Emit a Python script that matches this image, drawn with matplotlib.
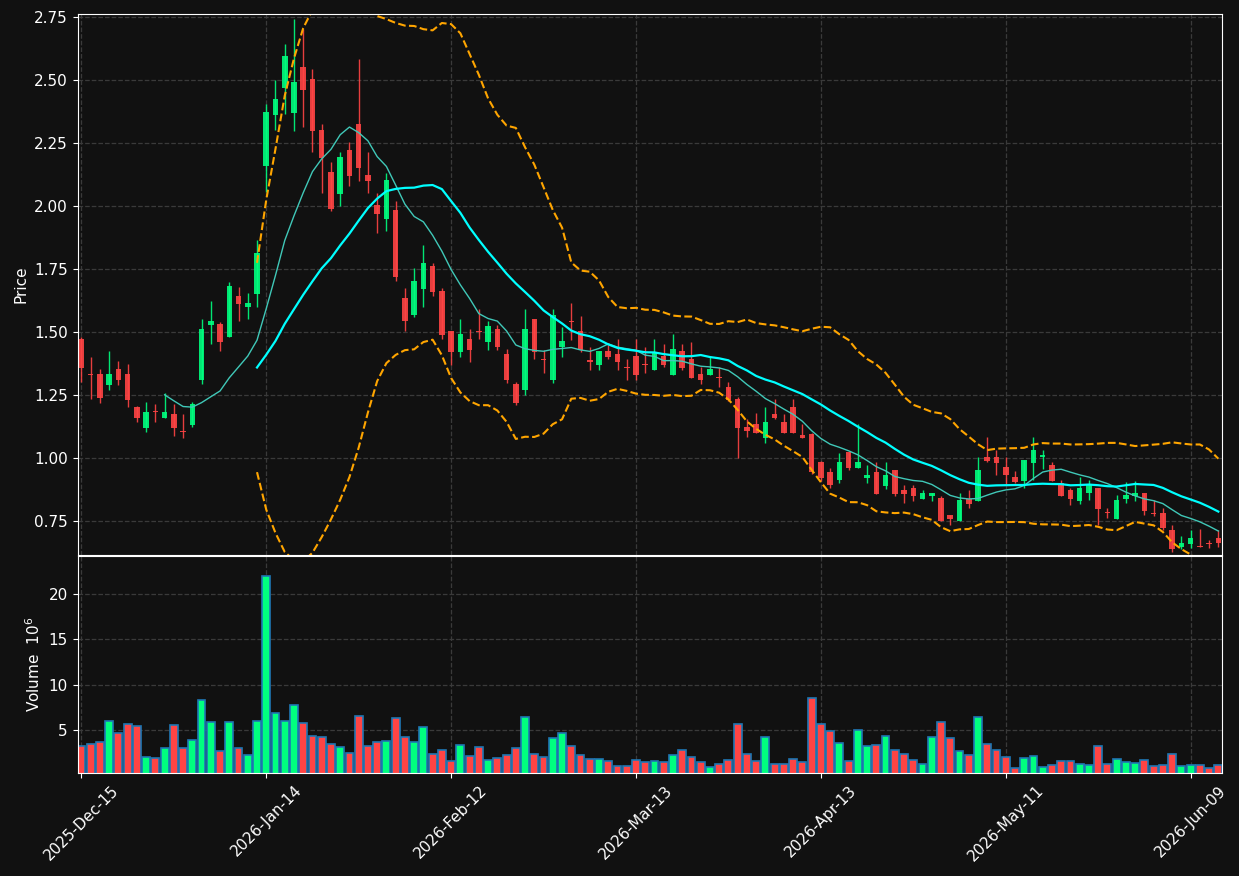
import numpy as np
import pandas as pd
import matplotlib
matplotlib.use('Agg')
import matplotlib.pyplot as plt

# daily OHLC (trading days 2025-12-15 .. 2026-06-12)
opens = [1.472, 1.335, 1.333, 1.291, 1.353, 1.333, 1.202, 1.120, 1.183, 1.160,
         1.175, 1.105, 1.132, 1.311, 1.529, 1.532, 1.481, 1.643, 1.600, 1.652,
         2.160, 2.362, 2.470, 2.369, 2.552, 2.504, 2.302, 2.135, 2.048, 2.222,
         2.325, 2.123, 2.004, 1.950, 1.984, 1.635, 1.569, 1.672, 1.762, 1.663,
         1.504, 1.422, 1.472, 1.506, 1.460, 1.512, 1.413, 1.294, 1.270, 1.552,
         1.392, 1.310, 1.442, 1.543, 1.504, 1.387, 1.369, 1.425, 1.413, 1.362,
         1.405, 1.375, 1.349, 1.406, 1.329, 1.425, 1.393, 1.333, 1.331, 1.322,
         1.283, 1.234, 1.123, 1.135, 1.081, 1.175, 1.143, 1.201, 1.090, 1.095,
         0.984, 0.944, 0.913, 1.024, 0.962, 0.922, 0.946, 0.889, 0.952, 0.873,
         0.882, 0.837, 0.849, 0.840, 0.773, 0.751, 0.838, 0.831, 1.003, 1.003,
         0.963, 0.923, 0.910, 0.981, 1.003, 0.972, 0.902, 0.873, 0.831, 0.860,
         0.882, 0.785, 0.759, 0.837, 0.850, 0.861, 0.783, 0.781, 0.714, 0.648,
         0.659, 0.649, 0.662, 0.684]
highs = [1.480, 1.402, 1.352, 1.423, 1.385, 1.373, 1.205, 1.221, 1.214, 1.257,
         1.213, 1.175, 1.221, 1.550, 1.623, 1.541, 1.700, 1.680, 1.654, 1.865,
         2.405, 2.501, 2.642, 2.741, 2.702, 2.542, 2.325, 2.173, 2.213, 2.253,
         2.583, 2.213, 2.050, 2.132, 2.021, 1.673, 1.753, 1.845, 1.773, 1.673,
         1.504, 1.550, 1.511, 1.590, 1.542, 1.528, 1.431, 1.302, 1.590, 1.552,
         1.429, 1.590, 1.521, 1.614, 1.563, 1.442, 1.425, 1.448, 1.471, 1.392,
         1.471, 1.442, 1.471, 1.451, 1.491, 1.452, 1.461, 1.360, 1.402, 1.360,
         1.300, 1.243, 1.154, 1.180, 1.201, 1.233, 1.175, 1.233, 1.135, 1.100,
         0.990, 0.960, 1.021, 1.024, 1.134, 0.971, 0.983, 0.983, 0.952, 0.893,
         0.893, 0.873, 0.860, 0.850, 0.773, 0.860, 0.873, 1.003, 1.082, 1.032,
         1.003, 0.950, 0.992, 1.082, 1.032, 0.983, 0.913, 0.880, 0.923, 0.913,
         0.882, 0.800, 0.853, 0.904, 0.910, 0.861, 0.833, 0.800, 0.734, 0.692,
         0.714, 0.719, 0.675, 0.714]
lows = [1.300, 1.233, 1.219, 1.271, 1.291, 1.201, 1.142, 1.102, 1.142, 1.158,
        1.088, 1.081, 1.122, 1.292, 1.451, 1.423, 1.481, 1.542, 1.550, 1.600,
        2.054, 2.300, 2.365, 2.299, 2.312, 2.213, 2.050, 1.981, 2.001, 2.081,
        2.100, 2.050, 1.892, 1.902, 1.701, 1.503, 1.560, 1.600, 1.643, 1.471,
        1.369, 1.402, 1.382, 1.471, 1.429, 1.429, 1.299, 1.211, 1.251, 1.392,
        1.338, 1.299, 1.402, 1.468, 1.422, 1.349, 1.349, 1.392, 1.349, 1.310,
        1.310, 1.336, 1.349, 1.362, 1.329, 1.349, 1.319, 1.294, 1.331, 1.283,
        1.228, 1.001, 1.082, 1.100, 1.061, 1.154, 1.100, 1.100, 1.081, 0.935,
        0.910, 0.880, 0.900, 0.952, 0.962, 0.902, 0.857, 0.876, 0.849, 0.820,
        0.831, 0.837, 0.831, 0.751, 0.733, 0.751, 0.800, 0.831, 0.983, 0.933,
        0.897, 0.900, 0.880, 0.913, 0.955, 0.910, 0.850, 0.813, 0.817, 0.833,
        0.734, 0.761, 0.759, 0.820, 0.831, 0.774, 0.770, 0.714, 0.628, 0.640,
        0.642, 0.646, 0.642, 0.648]
closes = [1.358, 1.330, 1.239, 1.333, 1.311, 1.231, 1.160, 1.183, 1.181, 1.183,
          1.120, 1.103, 1.214, 1.512, 1.544, 1.461, 1.683, 1.612, 1.614, 1.813,
          2.373, 2.425, 2.595, 2.492, 2.460, 2.299, 2.190, 1.988, 2.194, 2.119,
          2.151, 2.100, 1.968, 2.103, 1.719, 1.542, 1.702, 1.774, 1.660, 1.489,
          1.422, 1.492, 1.429, 1.502, 1.524, 1.439, 1.310, 1.219, 1.512, 1.422,
          1.388, 1.567, 1.464, 1.539, 1.429, 1.383, 1.425, 1.402, 1.382, 1.358,
          1.329, 1.371, 1.415, 1.369, 1.433, 1.358, 1.319, 1.310, 1.353, 1.318,
          1.230, 1.120, 1.108, 1.100, 1.143, 1.159, 1.100, 1.100, 1.081, 0.944,
          0.921, 0.893, 0.984, 0.962, 0.983, 0.933, 0.857, 0.933, 0.857, 0.857,
          0.849, 0.860, 0.860, 0.751, 0.759, 0.833, 0.817, 0.952, 0.988, 0.981,
          0.933, 0.904, 0.992, 1.032, 1.012, 0.910, 0.850, 0.837, 0.880, 0.893,
          0.798, 0.781, 0.833, 0.853, 0.862, 0.791, 0.779, 0.721, 0.639, 0.662,
          0.681, 0.647, 0.660, 0.661]
# volume in millions
volumes = [3.21, 3.39, 3.61, 5.97, 4.65, 5.60, 5.38, 1.99, 1.88, 2.94,
           5.49, 2.94, 3.87, 8.30, 5.86, 2.65, 5.86, 2.94, 2.21, 5.97,
           22.0, 6.86, 5.97, 7.74, 5.75, 4.31, 4.20, 3.39, 3.10, 2.43,
           6.53, 3.21, 3.63, 3.76, 6.31, 4.20, 3.65, 5.31, 2.32, 2.77,
           1.55, 3.32, 2.10, 3.10, 1.66, 1.88, 2.21, 2.99, 6.42, 2.32,
           1.99, 4.09, 4.65, 3.21, 2.21, 1.77, 1.77, 1.55, 1.00, 1.00,
           1.66, 1.44, 1.55, 1.44, 2.21, 2.77, 1.99, 1.44, 0.88, 1.22,
           1.66, 5.64, 2.32, 1.55, 4.20, 1.22, 1.22, 1.77, 1.40, 8.52,
           5.64, 4.87, 3.54, 1.55, 4.98, 3.21, 3.32, 4.31, 2.77, 2.32,
           1.66, 1.22, 4.20, 5.86, 4.09, 2.65, 2.21, 6.42, 3.43, 2.77,
           1.99, 0.77, 1.88, 2.10, 0.88, 1.11, 1.55, 1.55, 1.22, 1.11,
           3.21, 1.22, 1.77, 1.44, 1.33, 1.66, 1.00, 1.11, 2.32, 1.00,
           1.11, 1.11, 0.77, 1.11]

tick_pos = [0, 20, 40, 60, 80, 100, 120]
tick_labels = ['2025-Dec-15', '2026-Jan-14', '2026-Feb-12', '2026-Mar-13',
               '2026-Apr-13', '2026-May-11', '2026-Jun-09']

BG = '#111111'
UP = '#00ff7f'
DOWN = '#ff4444'

df = pd.DataFrame({'Open': opens, 'High': highs, 'Low': lows,
                   'Close': closes, 'Volume': volumes})
x = np.arange(len(df))
ma10 = df['Close'].rolling(10).mean()
ma20 = df['Close'].rolling(20).mean()
sd20 = df['Close'].rolling(20).std()
bb_up = ma20 + 2 * sd20
bb_lo = ma20 - 2 * sd20

up = df['Close'] >= df['Open']
colors = np.where(up, UP, DOWN)

fig = plt.figure(figsize=(12.39, 8.76), dpi=100, facecolor=BG)
ax = fig.add_axes([0.0627, 0.3664, 0.9236, 0.6176])
axv = fig.add_axes([0.0627, 0.1176, 0.9236, 0.2477], sharex=ax)

for a in (ax, axv):
    a.set_facecolor(BG)
    a.grid(True, linestyle='--', color='#3a3a3a', linewidth=0.9)
    a.set_axisbelow(True)
    for s in a.spines.values():
        s.set_color('white')
    a.tick_params(colors='white', labelsize=11)

# candles
ax.vlines(x, df['Low'], df['High'], colors=colors, linewidth=1, alpha=0.9)
body_lo = np.minimum(df['Open'], df['Close'])
body_h = np.maximum(np.abs(df['Close'] - df['Open']), 0.004)
ax.bar(x, body_h, bottom=body_lo, width=0.6, color=colors, alpha=0.9, linewidth=0)

ax.plot(x, ma10, color='#40c8b8', linewidth=1)
ax.plot(x, ma20, color='#00ffff', linewidth=1.6)
ax.plot(x, bb_up, color='orange', linestyle='--', linewidth=1.5)
ax.plot(x, bb_lo, color='orange', linestyle='--', linewidth=1.5)

ax.set_ylim(0.615, 2.762)
ax.set_xlim(-0.4, len(df) - 1 + 0.4)
ax.set_yticks([0.75, 1.0, 1.25, 1.5, 1.75, 2.0, 2.25, 2.5, 2.75])
ax.set_ylabel('Price', color='white', fontsize=11)
ax.tick_params(labelbottom=False)

# volume
axv.bar(x, df['Volume'], width=0.85, color=colors, edgecolor='#1f77b4', linewidth=1.2)
axv.set_ylim(0.3 * min(volumes), 1.1 * max(volumes))
axv.set_yticks([5, 10, 15, 20])
axv.set_ylabel('Volume  $10^{6}$', color='white', fontsize=11)
axv.set_xticks(tick_pos)
axv.set_xticklabels(tick_labels, rotation=45)

fig.savefig('out.png', dpi=100, facecolor=BG)
